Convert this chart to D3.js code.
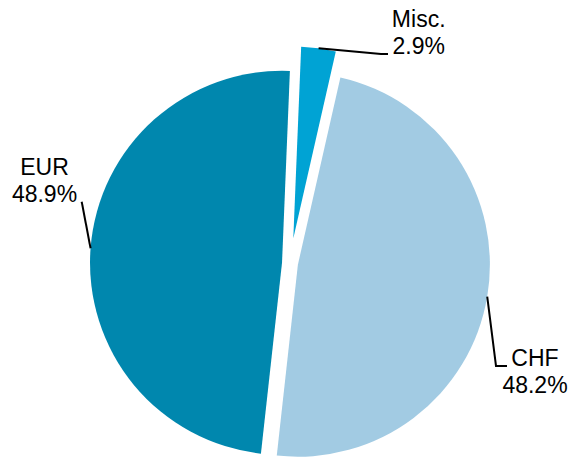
<!DOCTYPE html>
<html>
<head>
<meta charset="utf-8">
<script src="https://cdn.jsdelivr.net/npm/d3@7"></script>
<style>
  html, body { margin: 0; padding: 0; background: #fff; }
  svg { display: block; }
  text { font-family: "Liberation Sans", Arial, sans-serif; font-size: 23px; fill: #000; }
</style>
</head>
<body>
<svg id="chart" width="572" height="458"></svg>
<script>
// Currency breakdown (percent of total)
const categories = ["Misc.", "CHF", "EUR"];
const shares = [2.9, 48.2, 48.9];
const shareLabels = ["2.9%", "48.2%", "48.9%"];

const colors = ["#00a3d4", "#a2cbe3", "#0087ae"];
const explode = [25, 8, 8];

const W = 572, H = 458;
const cx = 290, cy = 263.4, R = 192;
const startDeg = 2.35;

const svg = d3.select("#chart");
const g = svg.append("g").attr("transform", `translate(${cx},${cy})`);

const pie = d3.pie().sort(null).value(d => d.value)
  .startAngle(startDeg * Math.PI / 180)
  .endAngle(startDeg * Math.PI / 180 + 2 * Math.PI);

const data = categories.map((c, i) => ({ name: c, value: shares[i], label: shareLabels[i], color: colors[i], off: explode[i] }));
const arcs = pie(data);
const arc = d3.arc().innerRadius(0).outerRadius(R);

// unit vector for an angle measured clockwise from 12 o'clock
const dir = a => [Math.sin(a), -Math.cos(a)];

arcs.forEach(a => {
  const mid = (a.startAngle + a.endAngle) / 2;
  const [ux, uy] = dir(mid);
  a.mid = mid;
  a.dx = ux * a.data.off;
  a.dy = uy * a.data.off;
  a.edge = [a.dx + ux * R, a.dy + uy * R];
});

g.selectAll("path.slice")
  .data(arcs)
  .join("path")
  .attr("class", "slice")
  .attr("transform", d => `translate(${d.dx},${d.dy})`)
  .attr("d", arc)
  .attr("fill", d => d.data.color);

// Label placement: leader line bend / end points and text anchor (page coordinates)
const labelLayout = {
  "Misc.": { pts: [[381, 54], [388, 54]], tx: 418.7, ty: 27.3 },
  "CHF":   { pts: [[496, 366], [507, 366]], tx: 535, ty: 366 },
  "EUR":   { pts: [[81.7, 201.7]], tx: 44.5, ty: 175 }
};

const lineGen = d3.line();
arcs.forEach(a => {
  const L = labelLayout[a.data.name];
  const start = [cx + a.edge[0], cy + a.edge[1]];
  svg.append("path")
    .attr("d", lineGen([start, ...L.pts]))
    .attr("fill", "none")
    .attr("stroke", "#000")
    .attr("stroke-width", 2);
  const t = svg.append("text").attr("text-anchor", "middle");
  t.append("tspan").attr("x", L.tx).attr("y", L.ty).text(a.data.name);
  t.append("tspan").attr("x", L.tx).attr("y", L.ty + 27).text(a.data.label);
});
</script>
</body>
</html>
